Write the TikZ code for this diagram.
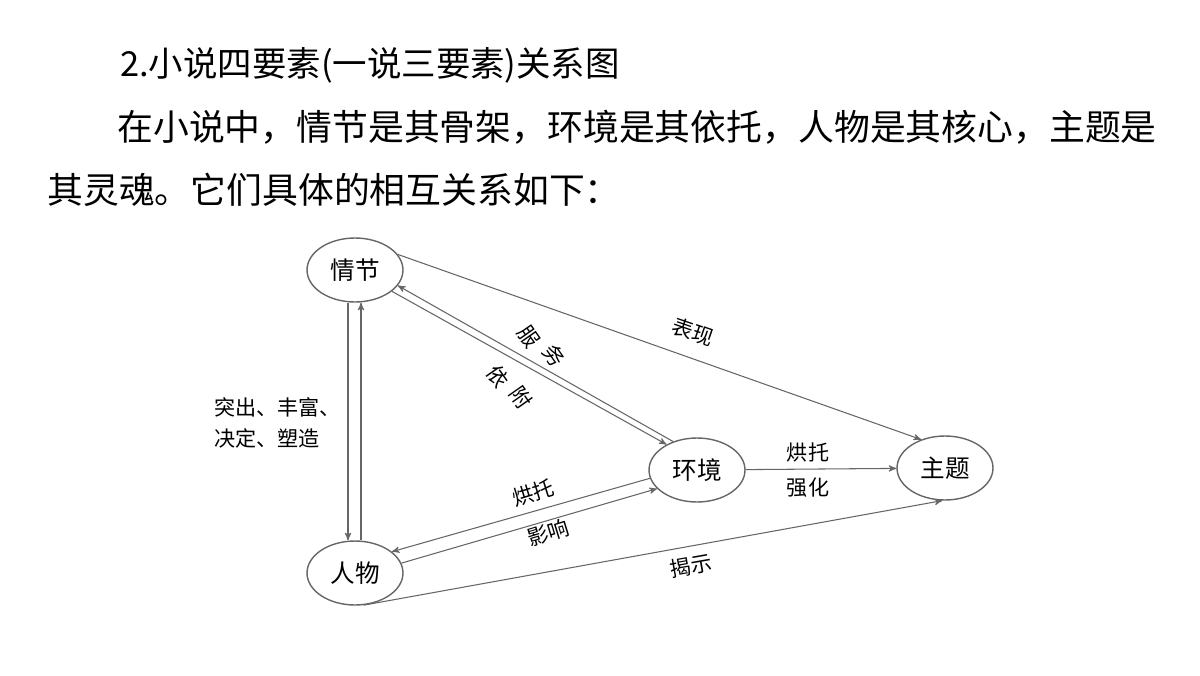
\documentclass[tikz,border=0pt]{standalone}
\usepackage{fontspec}
\setmainfont{Noto Sans CJK SC}
\usetikzlibrary{arrows,shapes.geometric}
\definecolor{cline}{rgb}{0.4,0.4,0.4}

\begin{document}
\begin{tikzpicture}[x=0.02cm,y=-0.02cm,>=stealth',
  elem node/.style={ellipse,draw=cline,thick,minimum width=1.92cm,
        minimum height=1.28cm,inner sep=0pt,font=\fontsize{14}{14}\selectfont},
  rel/.style={->,draw=cline,semithick},
  lbl/.style={font=\fontsize{12}{12}\selectfont,inner sep=1pt}]
  \useasboundingbox (0,0) rectangle (1200,676);
  \fill[white] (0,0) rectangle (1200,676);
  \node[anchor=west,font=\fontsize{19.6}{20}\selectfont] (title) at (114,65) {2.小说四要素(一说三要素)关系图};
  \node[anchor=west,font=\fontsize{20.4}{21}\selectfont,inner sep=0pt] (para1) at (117,127) {在小说中，情节是其骨架，环境是其依托，人物是其核心，主题是};
  \node[anchor=west,font=\fontsize{20.4}{21}\selectfont,inner sep=0pt] (para2) at (47,190) {其灵魂。它们具体的相互关系如下：};

  \node[elem node] (qj) at (355,270) {情节};
  \node[elem node] (rw) at (355,573) {人物};
  \node[elem node] (hj) at (697,470) {环境};
  \node[elem node] (zt) at (945,468) {主题};

  \draw[rel] (qj.south -| 348,0) -- (rw.north -| 348,0);
  \draw[rel] (rw.north -| 361,0) -- (qj.south -| 361,0);
  \draw[rel] (hj.130) -- (qj.-20);
  \draw[rel] (qj.-30) -- (hj.140);
  \draw[rel] (hj.190) -- (rw.30);
  \draw[rel] (rw.12) -- (hj.205);
  \draw[rel] (qj.20) -- (zt.130);
  \draw[rel] (rw.-75) -- (zt.-95);
  \draw[rel] (hj) -- (zt);

  \node[lbl,rotate=-19] (biaoxian) at (693,332) {表现};
  \node[lbl,rotate=-55] (fu) at (529,337) {服};
  \node[lbl,rotate=-55] (wu) at (554,356) {务};
  \node[lbl,rotate=-55] (yi) at (498,377) {依};
  \node[lbl,rotate=-55] (fu2) at (521,398) {附};
  \node[lbl,align=left,anchor=west,font=\fontsize{12}{18}\selectfont] (tuchu) at (212,423) {突出、丰富、\\决定、塑造};
  \node[lbl,rotate=17] (hongtuo) at (533,493) {烘托};
  \node[lbl,rotate=17] (yingxiang) at (548,533) {影响};
  \node[lbl] (hongtuo2) at (808,452) {烘托};
  \node[lbl] (qianghua) at (808,488) {强化};
  \node[lbl,rotate=10] (jieshi) at (691,566) {揭示};
\end{tikzpicture}
\end{document}
